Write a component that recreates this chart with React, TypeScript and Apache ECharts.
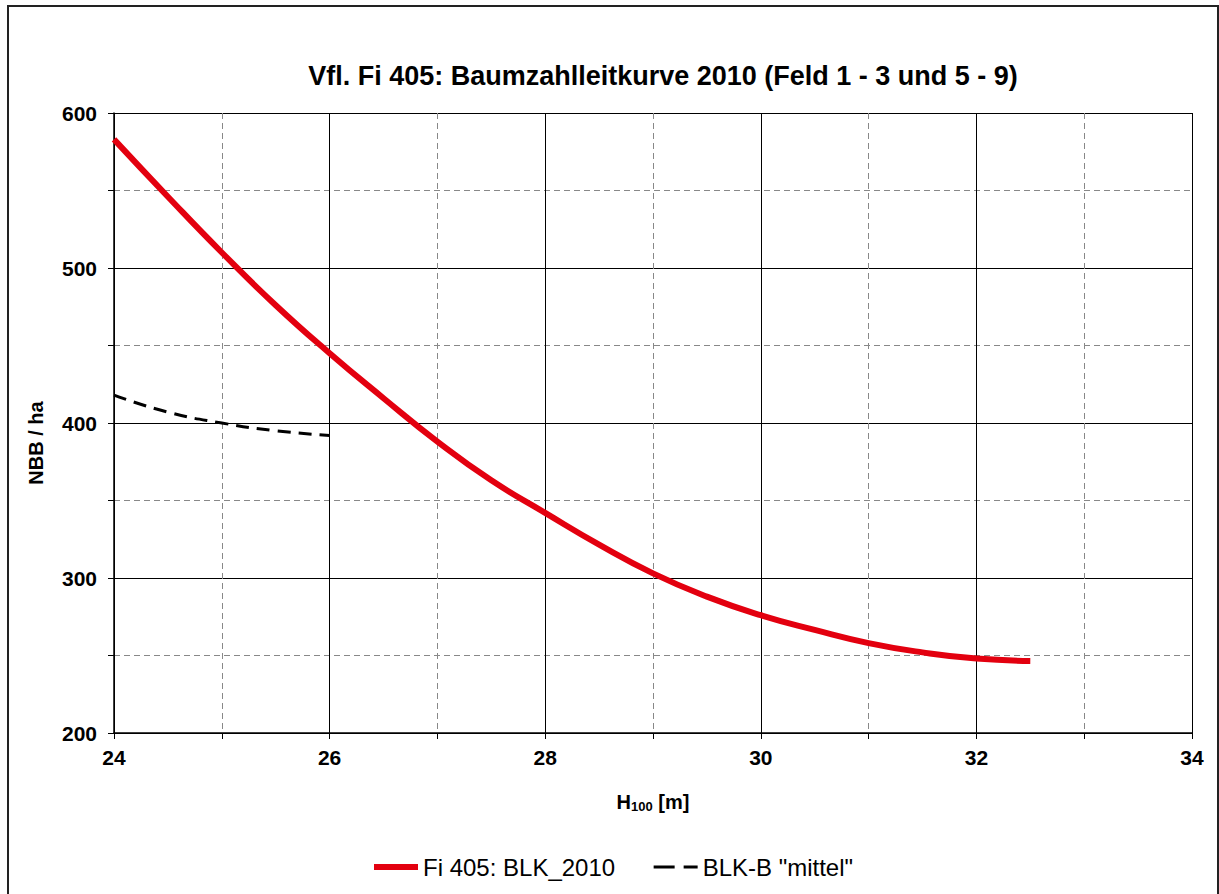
import React, { useEffect, useRef } from "react";
import * as echarts from "echarts";

const titleText = "Vfl. Fi 405: Baumzahlleitkurve 2010 (Feld 1 - 3 und 5 - 9)";
const seriesNames = ["Fi 405: BLK_2010", 'BLK-B "mittel"'];

const blkX = [24, 24.5, 25, 25.5, 26, 26.5, 27, 27.5, 28, 28.5, 29, 29.5, 30, 30.5, 31, 31.5, 32, 32.5];
const blkY = [583, 546, 510, 476, 445, 416, 388, 363, 342, 321.5, 303, 288, 276, 266.5, 258, 252, 248, 246.5];

const mittelX = [24, 24.5, 25, 25.5, 26];
const mittelY = [418, 407, 400, 395, 392];

const FONT = "Liberation Sans, Arial, sans-serif";

export default function App() {
  const ref = useRef<HTMLDivElement>(null);
  useEffect(() => {
    document.body.style.margin = "0";
    const chart = echarts.init(ref.current!, null, { renderer: "svg" });
    const option: any = {
      animation: false,
      backgroundColor: "#fff",
      title: {
        text: titleText,
        left: 658,
        top: 57,
        textAlign: "center",
        textStyle: { fontFamily: FONT, fontSize: 27, fontWeight: "bold", color: "#000" },
      },
      grid: { left: 114, right: 27, top: 113, bottom: 161 },
      legend: {
        left: 371,
        top: 855,
        padding: 0,
        itemWidth: 44,
        itemHeight: 14,
        itemGap: 37,
        textStyle: { fontFamily: FONT, fontSize: 24, color: "#000" },
        itemStyle: { opacity: 0 },
        data: [
          { name: seriesNames[0], itemStyle: { opacity: 0 }, lineStyle: { width: 6 } },
          { name: seriesNames[1], itemStyle: { opacity: 0 }, lineStyle: { width: 3, type: [21, 9] } },
        ],
      },
      graphic: [
        {
          type: "rect",
          shape: { x: 8, y: 6, width: 1210, height: 910 },
          style: { fill: "none", stroke: "#222", lineWidth: 2 },
          silent: true,
        },
      ],
      xAxis: {
        type: "value",
        min: 24,
        max: 34,
        interval: 2,
        name: "{a|H}{b|100}{a| [m]}",
        nameLocation: "middle",
        nameGap: 57,
        nameTextStyle: {
          rich: {
            a: { fontFamily: FONT, fontSize: 20, fontWeight: "bold", color: "#000" },
            b: { fontFamily: FONT, fontSize: 13, fontWeight: "bold", color: "#000", padding: [10, 0, 0, 0] },
          },
        },
        axisLine: { show: true, lineStyle: { color: "#000", width: 1.5 } },
        axisTick: { show: true, length: 6, lineStyle: { color: "#000" } },
        minorTick: { show: true, splitNumber: 2, length: 6, lineStyle: { color: "#000" } },
        axisLabel: { margin: 14, fontFamily: FONT, fontSize: 21, fontWeight: "bold", color: "#000" },
        splitLine: { show: true, lineStyle: { color: "#000", width: 1 } },
        minorSplitLine: { show: true, lineStyle: { color: "#888", width: 1, type: [6, 4] } },
      },
      yAxis: {
        type: "value",
        min: 200,
        max: 600,
        interval: 100,
        name: "NBB / ha",
        nameLocation: "middle",
        nameGap: 68,
        nameTextStyle: { fontFamily: FONT, fontSize: 20, fontWeight: "bold", color: "#000", padding: [0, 40, 0, 0] },
        axisLine: { show: true, lineStyle: { color: "#000", width: 1.5 } },
        axisTick: { show: true, length: 6, lineStyle: { color: "#000" } },
        minorTick: { show: true, splitNumber: 2, length: 6, lineStyle: { color: "#000" } },
        axisLabel: { margin: 17, fontFamily: FONT, fontSize: 21, fontWeight: "bold", color: "#000" },
        splitLine: { show: true, lineStyle: { color: "#000", width: 1 } },
        minorSplitLine: { show: true, lineStyle: { color: "#888", width: 1, type: [6, 4] } },
      },
      series: [
        {
          name: seriesNames[0],
          type: "line",
          smooth: true,
          symbol: "none",
          color: "#e3000f",
          lineStyle: { width: 6, color: "#e3000f" },
          data: blkX.map((x, i) => [x, blkY[i]]),
        },
        {
          name: seriesNames[1],
          type: "line",
          smooth: true,
          symbol: "none",
          color: "#000",
          lineStyle: { width: 3, color: "#000", type: [13, 8] },
          data: mittelX.map((x, i) => [x, mittelY[i]]),
        },
      ],
    };
    chart.setOption(option);
    return () => chart.dispose();
  }, []);
  return <div ref={ref} style={{ position: "fixed", left: 0, top: 0, width: 1219, height: 894 }} />;
}
